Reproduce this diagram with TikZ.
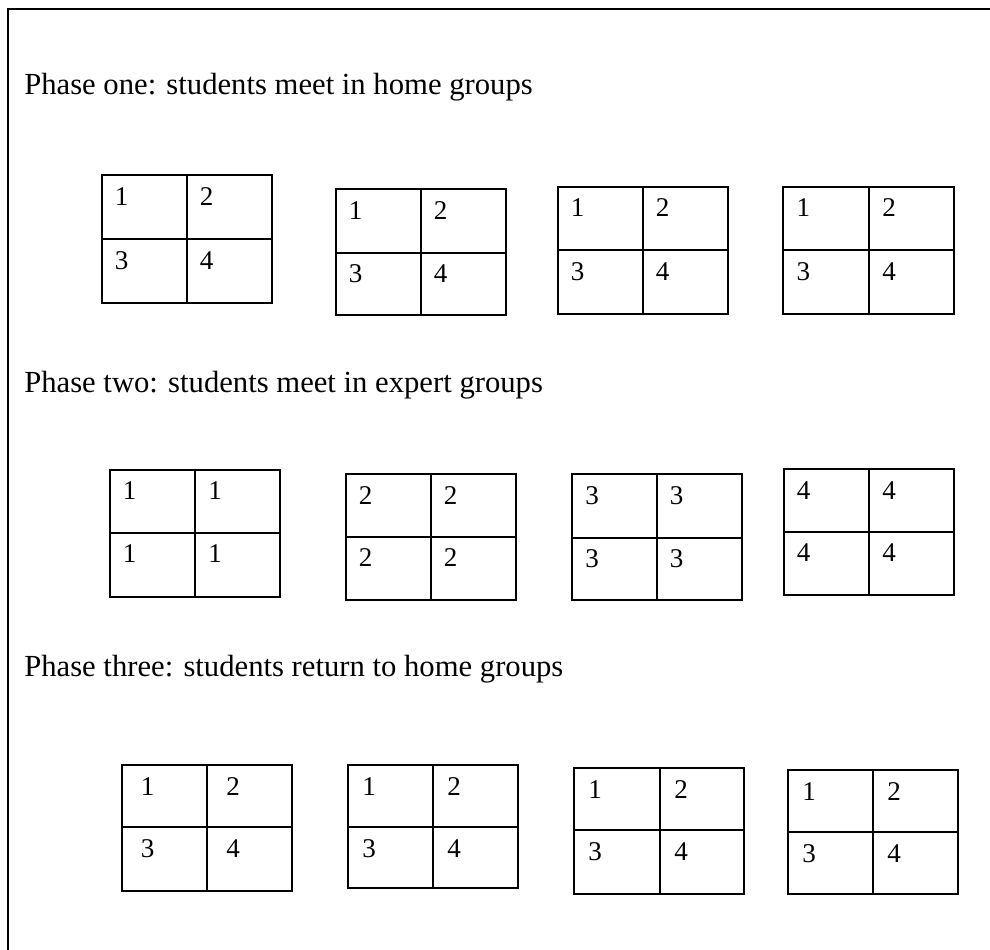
\documentclass[tikz,border=0pt]{standalone}
\usepackage{fontspec}
\setmainfont{Liberation Serif}
\begin{document}
\begin{tikzpicture}[x=0.75pt,y=0.75pt,
  frameline/.style={line width=1.6pt},
  gridline/.style={line width=1.6pt},
  num/.style={inner sep=0pt,anchor=base west,font=\fontsize{20.3}{24}\selectfont},
  phase/.style={inner sep=0pt,anchor=base west,font=\fontsize{23}{27}\selectfont}]
\useasboundingbox (0,0) rectangle (990,-950);
\newcommand\gridbox[7]{%
  \draw[gridline] (#2,-#3) rectangle (#4,-#5);
  \draw[gridline] (#6,-#3) -- (#6,-#5);
  \draw[gridline] (#2,-#7) -- (#4,-#7);
  \coordinate (#1-tl) at (#2,-#3);
  \coordinate (#1-tr) at (#6,-#3);
  \coordinate (#1-bl) at (#2,-#7);
  \coordinate (#1-br) at (#6,-#7);}
\newcommand\gridnums[6]{%
  \node[num] (#1-a) at ([shift={(#2,-30)}]#1-tl) {#3};
  \node[num] (#1-b) at ([shift={(#2,-30)}]#1-tr) {#4};
  \node[num] (#1-c) at ([shift={(#2,-30)}]#1-bl) {#5};
  \node[num] (#1-d) at ([shift={(#2,-30)}]#1-br) {#6};}
% frame
\draw[frameline] (990,-9) -- (8,-9) -- (8,-950);
% phase one
\node[phase] (t1) at (24,-94) {Phase one: students meet in home groups};
\gridbox{p1a}{101.7}{175}{272}{303}{186.7}{239}
\gridnums{p1a}{13}{1}{2}{3}{4}
\gridbox{p1b}{335.7}{189}{505.7}{315.3}{420.7}{252.7}
\gridnums{p1b}{13}{1}{2}{3}{4}
\gridbox{p1c}{557.7}{186.7}{728.3}{314.3}{642.7}{250}
\gridnums{p1c}{13}{1}{2}{3}{4}
\gridbox{p1d}{783.3}{186.7}{954}{314.3}{869}{250}
\gridnums{p1d}{13}{1}{2}{3}{4}
% phase two
\node[phase] (t2) at (24,-392) {Phase two: students meet in expert groups};
\gridbox{p2a}{109.7}{469.7}{280}{596.7}{195}{532.7}
\gridnums{p2a}{13}{1}{1}{1}{1}
\gridbox{p2b}{345.7}{474}{516}{600.3}{430.7}{536.7}
\gridnums{p2b}{13}{2}{2}{2}{2}
\gridbox{p2c}{572}{474}{742}{600.3}{656.7}{537.7}
\gridnums{p2c}{13}{3}{3}{3}{3}
\gridbox{p2d}{783.7}{469}{953.7}{595.3}{869}{531.7}
\gridnums{p2d}{13}{4}{4}{4}{4}
% phase three
\node[phase] (t3) at (24,-676) {Phase three: students return to home groups};
\gridbox{p3a}{121.7}{765}{292}{891}{207}{827}
\gridnums{p3a}{19}{1}{2}{3}{4}
\gridbox{p3b}{348}{765}{518}{888}{433}{827}
\gridnums{p3b}{14}{1}{2}{3}{4}
\gridbox{p3c}{574}{768}{744}{894}{660}{830}
\gridnums{p3c}{14}{1}{2}{3}{4}
\gridbox{p3d}{788}{770}{958}{894}{873}{832}
\gridnums{p3d}{14}{1}{2}{3}{4}
\end{tikzpicture}
\end{document}
